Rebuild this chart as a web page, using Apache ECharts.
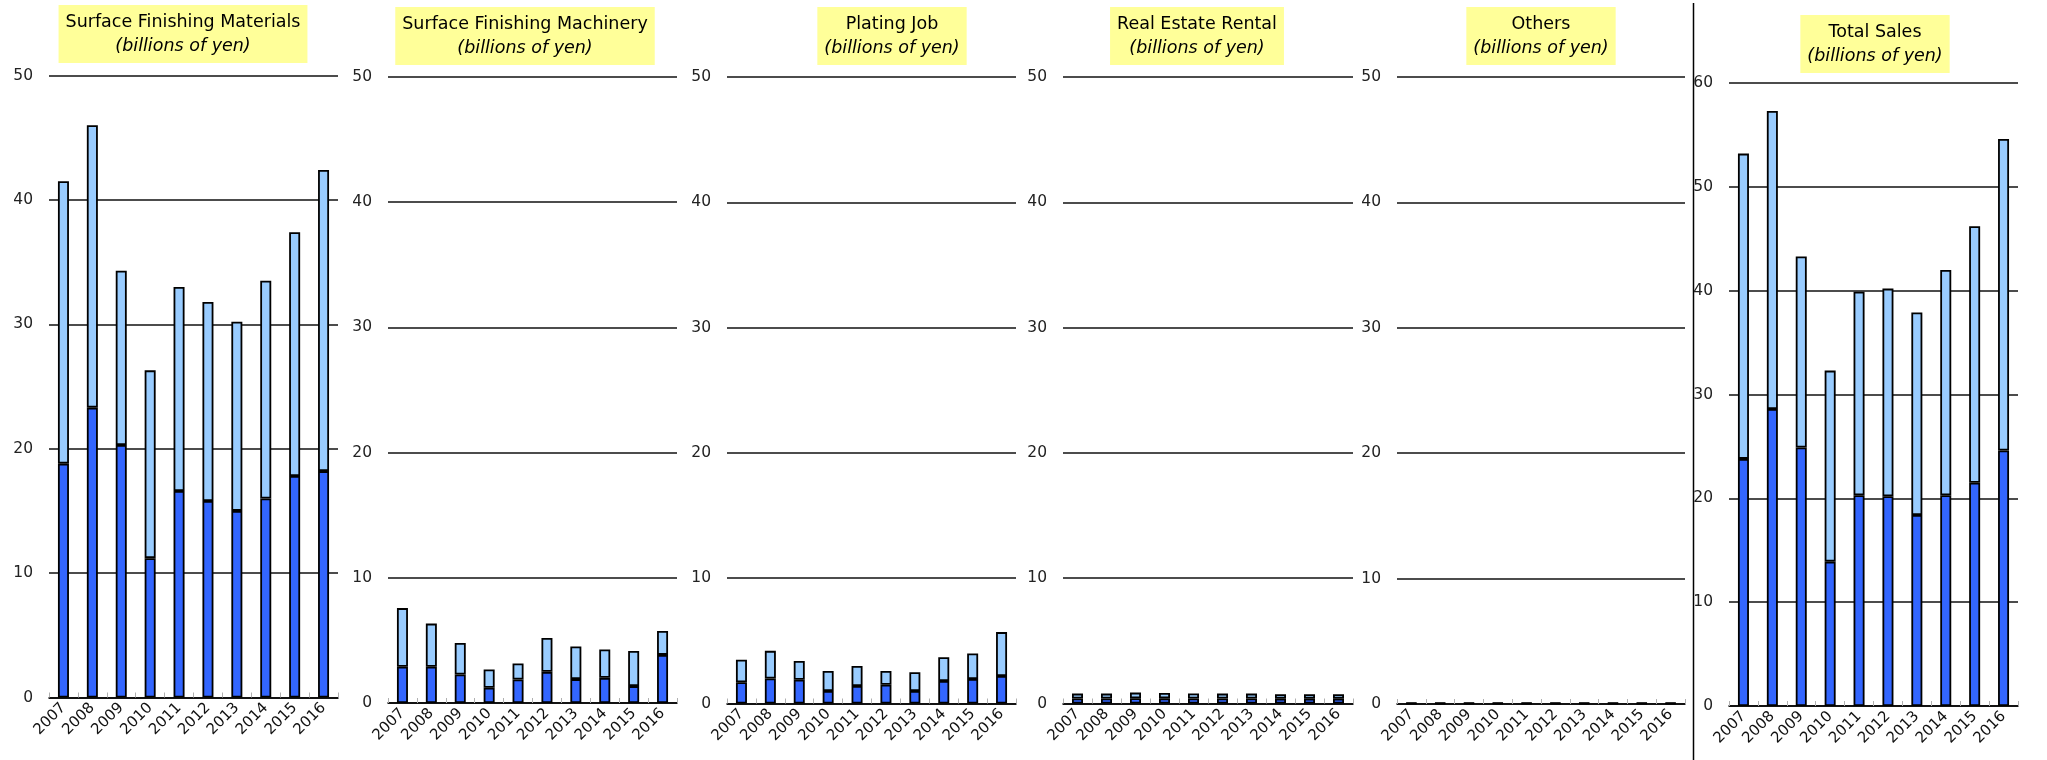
<!DOCTYPE html>
<html>
<head>
<meta charset="utf-8">
<script src="https://cdn.jsdelivr.net/npm/echarts@6/dist/echarts.min.js"></script>
<style>
html,body{margin:0;padding:0;background:#fff;}
#chart{width:2047px;height:760px;}
</style>
</head>
<body>
<div id="chart"></div>
<script>
// ---- Data ----
const years = ['2007','2008','2009','2010','2011','2012','2013','2014','2015','2016'];

const panelTitles = ['Surface Finishing Materials','Surface Finishing Machinery','Plating Job','Real Estate Rental','Others','Total Sales'];
const unitLabel = '(billions of yen)';

// lower (dark blue) and upper (light blue) segments of each stacked bar
const materialsLower = [18.8, 23.3, 20.3, 11.2, 16.6, 15.8, 15.0, 16.0, 17.8, 18.2];
const materialsUpper = [22.7, 22.7, 14.0, 15.1, 16.4, 16.0, 15.2, 17.5, 19.6, 24.2];

const machineryLower = [2.89, 2.89, 2.28, 1.22, 1.88, 2.49, 1.91, 2.01, 1.35, 3.84];
const machineryUpper = [4.69, 3.45, 2.52, 1.46, 1.28, 2.71, 2.60, 2.26, 2.81, 1.91];

const platingLower = [1.7, 2.0, 1.9, 1.0, 1.4, 1.5, 1.0, 1.8, 1.95, 2.2];
const platingUpper = [1.8, 2.2, 1.5, 1.6, 1.6, 1.1, 1.5, 1.9, 2.05, 3.5];

const rentalLower = [0.40, 0.40, 0.42, 0.41, 0.40, 0.40, 0.40, 0.38, 0.38, 0.38];
const rentalUpper = [0.39, 0.39, 0.45, 0.43, 0.40, 0.39, 0.39, 0.35, 0.35, 0.35];

const othersLower = [0.05, 0.05, 0.05, 0.05, 0.05, 0.05, 0.05, 0.05, 0.05, 0.05];
const othersUpper = [0.04, 0.04, 0.04, 0.04, 0.04, 0.04, 0.04, 0.04, 0.04, 0.04];

const totalLower = [23.8, 28.6, 24.9, 13.9, 20.3, 20.2, 18.4, 20.3, 21.5, 24.6];
const totalUpper = [29.4, 28.7, 18.4, 18.4, 19.6, 20.0, 19.5, 21.7, 24.7, 30.0];

const axisMax = [50, 50, 50, 50, 50, 60];
const axisInterval = 10;

// ---- Layout (pixels) ----
const lowerSets = [materialsLower, machineryLower, platingLower, rentalLower, othersLower, totalLower];
const upperSets = [materialsUpper, machineryUpper, platingUpper, rentalUpper, othersUpper, totalUpper];
const gridBoxes = [
  {left: 49,   top: 75.5, width: 289, bottom: 760 - 697.5},
  {left: 388,  top: 77,   width: 289, bottom: 760 - 703},
  {left: 727,  top: 77,   width: 289, bottom: 760 - 703.5},
  {left: 1063, top: 77,   width: 290, bottom: 760 - 703.5},
  {left: 1397, top: 77,   width: 288, bottom: 760 - 704},
  {left: 1729, top: 83,   width: 289, bottom: 760 - 706}
];
const titleCenters = [
  {x: 183, y: 5}, {x: 525, y: 7}, {x: 892, y: 7}, {x: 1197, y: 7}, {x: 1541, y: 7}, {x: 1875, y: 15}
];

const DARK = '#3366FF', LIGHT = '#99CCFF';
const FONT = 'DejaVu Sans';

const grid = [], xAxis = [], yAxis = [], series = [], graphic = [];
gridBoxes.forEach((g, i) => {
  grid.push(Object.assign({containLabel: false}, g));
  xAxis.push({
    type: 'category', gridIndex: i, data: years,
    axisLine: {show: true, lineStyle: {color: '#000', width: 1.6}},
    axisTick: {show: true, inside: true, length: 5, alignWithLabel: false, lineStyle: {color: '#b0b0b0', width: 1}},
    axisLabel: {rotate: 45, fontFamily: FONT, fontSize: 15, color: '#111', margin: 8, interval: 0}
  });
  yAxis.push({
    type: 'value', gridIndex: i, min: 0, max: axisMax[i], interval: axisInterval,
    axisLine: {show: false}, axisTick: {show: false},
    splitLine: {show: true, lineStyle: {color: '#111', width: 1.6}},
    axisLabel: {fontFamily: FONT, fontSize: 15.5, color: '#222', margin: 16}
  });
  series.push({
    type: 'bar', name: 'Lower segment', stack: 's' + i, xAxisIndex: i, yAxisIndex: i,
    data: lowerSets[i], barWidth: 11,
    itemStyle: {color: DARK, borderColor: '#000', borderWidth: 1.8}
  });
  series.push({
    type: 'bar', name: 'Upper segment', stack: 's' + i, xAxisIndex: i, yAxisIndex: i,
    data: upperSets[i], barWidth: 11,
    itemStyle: {color: LIGHT, borderColor: '#000', borderWidth: 1.8}
  });
  graphic.push({
    type: 'text', x: titleCenters[i].x, y: titleCenters[i].y, z: 10,
    style: {
      text: '{a|' + panelTitles[i] + '}\n{b|' + unitLabel + '}',
      align: 'center', verticalAlign: 'top',
      backgroundColor: '#FFFF99', padding: [5, 7, 5, 7],
      rich: {
        a: {fontFamily: FONT, fontSize: 17.5, lineHeight: 24, fill: '#000', align: 'center'},
        b: {fontFamily: FONT, fontSize: 17.5, fontStyle: 'italic', lineHeight: 24, fill: '#000', align: 'center'}
      }
    }
  });
});
graphic.push({
  type: 'line', shape: {x1: 1693.5, y1: 3, x2: 1693.5, y2: 760},
  style: {stroke: '#000', lineWidth: 1.5}
});

const chart = echarts.init(document.getElementById('chart'), null, {renderer: 'canvas'});
chart.setOption({
  animation: false,
  backgroundColor: '#fff',
  grid, xAxis, yAxis, series, graphic
});
</script>
</body>
</html>
